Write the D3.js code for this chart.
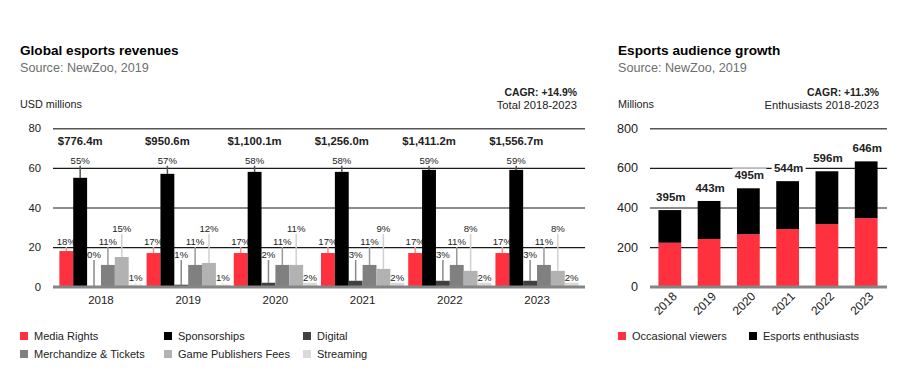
<!DOCTYPE html>
<html>
<head>
<meta charset="utf-8">
<script src="https://cdn.jsdelivr.net/npm/d3@7"></script>
<style>
  body { margin: 0; background: #fff; }
  svg text { font-family: 'Liberation Sans', Arial, sans-serif; fill: #222; }
</style>
</head>
<body>
<div id="chart"></div>
<script>
// revenue chart data (percent share per year)
var years = [ '2018', '2019', '2020', '2021', '2022', '2023' ];
var revTotals = [ '$776.4m', '$950.6m', '$1,100.1m', '$1,256.0m', '$1,411.2m', '$1,556.7m' ];
var revSeries = [ 'Media Rights', 'Sponsorships', 'Digital', 'Merchandize & Tickets', 'Game Publishers Fees', 'Streaming' ];
var mediaRights = [ 18, 17, 17, 17, 17, 17 ];
var sponsorships = [ 55, 57, 58, 58, 59, 59 ];
var digital = [ 0, 1, 2, 3, 3, 3 ];
var merchandize = [ 11, 11, 11, 11, 11, 11 ];
var gamePublishers = [ 15, 12, 11, 9, 8, 8 ];
var streaming = [ 1, 1, 2, 2, 2, 2 ];
var revTicks = [ 0, 20, 40, 60, 80 ];

// audience chart data (millions)
var occasional = [ 222, 241, 265, 291, 316, 346 ];
var enthusiasts = [ 165, 192, 232, 242, 267, 287 ];
var audTotals = [ '395m', '443m', '495m', '544m', '596m', '646m' ];
var audSeries = [ 'Occasional viewers', 'Esports enthusiasts' ];
var audTicks = [ 0, 200, 400, 600, 800 ];

var revValues = [ mediaRights, sponsorships, digital, merchandize, gamePublishers, streaming ];
var revColors = [ '#ff313e', '#000000', '#404040', '#808080', '#b2b2b2', '#d9d9d9' ];
var leadColors = [ '#ff8c8c', '#555555', '#8a8a8a', '#9a9a9a', '#d0d0d0', '#e6e6e6' ];
// height (in axis units) where each series' percent labels sit
var labelLevel = [ 22.6, 63.6, 16, 22.6, 29.1, 4.4 ];

var svg = d3.select( '#chart' ).append( 'svg' )
	.attr( 'width', 906 )
	.attr( 'height', 368 );

function header( x, title, unit, right, cagr, sub ) {
	svg.append( 'text' ).attr( 'x', x ).attr( 'y', 55 )
		.text( title ).attr( 'font-size', '13.6px' ).attr( 'font-weight', 'bold' ).style( 'fill', '#000' );
	svg.append( 'text' ).attr( 'x', x ).attr( 'y', 71.5 )
		.text( 'Source: NewZoo, 2019' ).attr( 'font-size', '12.6px' ).style( 'fill', '#6e6e6e' );
	svg.append( 'text' ).attr( 'x', x ).attr( 'y', 108 )
		.text( unit ).attr( 'font-size', '10.8px' );
	svg.append( 'text' ).attr( 'x', right ).attr( 'y', 95.5 ).attr( 'text-anchor', 'end' )
		.text( cagr ).attr( 'font-size', '10.4px' ).attr( 'font-weight', 'bold' );
	svg.append( 'text' ).attr( 'x', right ).attr( 'y', 109 ).attr( 'text-anchor', 'end' )
		.text( sub ).attr( 'font-size', '11.2px' );
}

function grid( yScale, ticks, x0, x1, fs ) {
	var g = svg.append( 'g' )
		.attr( 'transform', 'translate(' + x0 + ',0)' )
		.call( d3.axisLeft( yScale ).tickValues( ticks ).tickSize( -( x1 - x0 ) ).tickPadding( 12 ) );
	g.select( '.domain' ).remove();
	g.selectAll( '.tick line' )
		.attr( 'stroke', function( d, i ) { return i == 0 ? '#858585' : ( i == ticks.length - 1 ? '#555' : '#1a1a1a' ); } )
		.attr( 'stroke-width', function( d, i ) { return i == 0 ? 2.5 : ( i == ticks.length - 1 ? 1.6 : 1.2 ); } );
	g.selectAll( '.tick text' )
		.attr( 'font-size', fs )
		.style( 'font-family', "'Liberation Sans', Arial, sans-serif" )
		.style( 'fill', '#222' );
	return g;
}

function legendItem( x, y, color, label ) {
	svg.append( 'rect' ).attr( 'x', x ).attr( 'y', y - 4 ).attr( 'width', 8 ).attr( 'height', 8 ).style( 'fill', color );
	svg.append( 'text' ).attr( 'x', x + 14 ).attr( 'y', y ).attr( 'dy', '0.35em' )
		.text( label ).attr( 'font-size', '11px' );
}

// ---------- LEFT: revenues ----------
header( 20, 'Global esports revenues', 'USD millions', 577, 'CAGR: +14.9%', 'Total 2018-2023' );

var revY = d3.scaleLinear().domain( [ 0, 80 ] ).range( [ 286.7, 128.3 ] );
var revX = d3.scaleBand().domain( years ).range( [ 53, 585 ] ).paddingInner( 0.046 ).paddingOuter( 0.073 );
var revInner = d3.scaleBand().domain( d3.range( revSeries.length ) ).range( [ 0, revX.bandwidth() ] );

var revGrid = grid( revY, revTicks, 53, 585, '11.3px' );
revGrid.selectAll( '.tick line' ).filter( function( d ) { return d == 0; } ).raise();

var groups = svg.selectAll( '.rev-group' )
	.data( years )
	.enter()
	.append( 'g' )
	.attr( 'class', 'rev-group' )
	.attr( 'transform', function( d ) { return 'translate(' + revX( d ) + ',0)'; } );

revSeries.forEach( function( s, k ) {
	var cx = function( d, i ) { return revInner( k ) + revInner.bandwidth() / 2; };
	// leader lines
	groups.append( 'line' )
		.attr( 'x1', cx ).attr( 'x2', cx )
		.attr( 'y1', function( d, i ) { return revY( revValues[ k ][ i ] ); } )
		.attr( 'y2', function( d, i ) { return Math.min( revY( labelLevel[ k ] ) + 5, revY( revValues[ k ][ i ] ) ); } )
		.attr( 'stroke', leadColors[ k ] )
		.attr( 'stroke-width', 1.5 );
	groups.append( 'rect' )
		.attr( 'x', revInner( k ) )
		.attr( 'width', revInner.bandwidth() )
		.attr( 'y', function( d, i ) { return revY( revValues[ k ][ i ] ); } )
		.attr( 'height', function( d, i ) { return revY( 0 ) - revY( revValues[ k ][ i ] ); } )
		.style( 'fill', revColors[ k ] );
	groups.append( 'text' )
		.attr( 'x', cx )
		.attr( 'y', revY( labelLevel[ k ] ) )
		.attr( 'dy', '0.35em' )
		.attr( 'text-anchor', 'middle' )
		.attr( 'font-size', '9.6px' )
		.text( function( d, i ) { return revValues[ k ][ i ] + '%'; } );
} );

// redraw baseline over the bars
svg.append( 'line' )
	.attr( 'x1', 53 ).attr( 'x2', 585 )
	.attr( 'y1', revY( 0 ) ).attr( 'y2', revY( 0 ) )
	.attr( 'stroke', '#858585' ).attr( 'stroke-width', 2.5 );

groups.append( 'text' )
	.attr( 'x', revInner( 1 ) + revInner.bandwidth() / 2 )
	.attr( 'y', 141 )
	.attr( 'dy', '0.35em' )
	.attr( 'text-anchor', 'middle' )
	.attr( 'font-size', '11.3px' )
	.attr( 'font-weight', 'bold' )
	.text( function( d, i ) { return revTotals[ i ]; } );

var revXAxis = svg.append( 'g' )
	.attr( 'transform', 'translate(0,' + revY( 0 ) + ')' )
	.call( d3.axisBottom( revX ).tickSize( 0 ).tickPadding( 9 ) );
revXAxis.select( '.domain' ).remove();
revXAxis.selectAll( 'text' )
	.attr( 'font-size', '11.5px' )
	.style( 'font-family', "'Liberation Sans', Arial, sans-serif" )
	.style( 'fill', '#222' );

var legX = [ 20, 164, 303 ];
revSeries.forEach( function( s, k ) {
	legendItem( legX[ k % 3 ], k < 3 ? 336 : 354, revColors[ k ], s );
} );

// ---------- RIGHT: audience ----------
header( 618, 'Esports audience growth', 'Millions', 879, 'CAGR: +11.3%', 'Enthusiasts 2018-2023' );

var audY = d3.scaleLinear().domain( [ 0, 800 ] ).range( [ 286.7, 128.3 ] );
var audX = d3.scaleBand().domain( years ).range( [ 649, 887 ] ).paddingInner( 0.42 ).paddingOuter( 0.24 );

grid( audY, audTicks, 650, 887, '12.6px' );

var stackData = years.map( function( y, i ) {
	return { year: y, occ: occasional[ i ], ent: enthusiasts[ i ] };
} );
var stacked = d3.stack().keys( [ 'occ', 'ent' ] )( stackData );
var audColors = [ '#ff313e', '#000000' ];

svg.selectAll( '.aud-layer' )
	.data( stacked )
	.enter()
	.append( 'g' )
	.attr( 'class', 'aud-layer' )
	.style( 'fill', function( d, i ) { return audColors[ i ]; } )
	.selectAll( 'rect' )
	.data( function( d ) { return d; } )
	.enter()
	.append( 'rect' )
	.attr( 'x', function( d ) { return audX( d.data.year ); } )
	.attr( 'width', audX.bandwidth() )
	.attr( 'y', function( d ) { return audY( d[ 1 ] ); } )
	.attr( 'height', function( d ) { return audY( d[ 0 ] ) - audY( d[ 1 ] ); } );

svg.append( 'line' )
	.attr( 'x1', 650 ).attr( 'x2', 887 )
	.attr( 'y1', audY( 0 ) ).attr( 'y2', audY( 0 ) )
	.attr( 'stroke', '#858585' ).attr( 'stroke-width', 2.5 );

// total labels with white knock-out behind them
var totLabels = svg.selectAll( '.aud-total' )
	.data( stackData )
	.enter()
	.append( 'g' )
	.attr( 'class', 'aud-total' )
	.attr( 'transform', function( d ) {
		return 'translate(' + ( audX( d.year ) + audX.bandwidth() / 2 + 1 ) + ',' + ( audY( d.occ + d.ent ) - 13 ) + ')';
	} );
totLabels.append( 'rect' )
	.attr( 'x', -17 ).attr( 'y', -7 ).attr( 'width', 34 ).attr( 'height', 14 )
	.style( 'fill', '#fff' );
totLabels.append( 'text' )
	.attr( 'dy', '0.35em' )
	.attr( 'text-anchor', 'middle' )
	.attr( 'font-size', '11.5px' )
	.attr( 'font-weight', 'bold' )
	.text( function( d, i ) { return audTotals[ i ]; } );

svg.selectAll( '.aud-year' )
	.data( years )
	.enter()
	.append( 'text' )
	.attr( 'class', 'aud-year' )
	.attr( 'transform', function( d ) {
		return 'translate(' + ( audX( d ) + audX.bandwidth() / 2 + 5 ) + ',294) rotate(-45)';
	} )
	.attr( 'text-anchor', 'end' )
	.attr( 'dy', '0.35em' )
	.attr( 'font-size', '12px' )
	.text( function( d ) { return d; } );

legendItem( 618, 336, audColors[ 0 ], audSeries[ 0 ] );
legendItem( 749, 336, audColors[ 1 ], audSeries[ 1 ] );
</script>
</body>
</html>
